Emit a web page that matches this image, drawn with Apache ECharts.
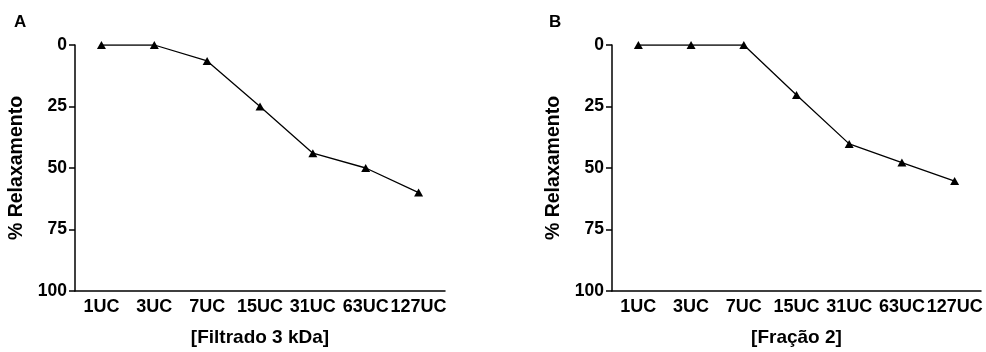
<!DOCTYPE html>
<html>
<head>
<meta charset="utf-8">
<script src="https://cdn.jsdelivr.net/npm/echarts@6/dist/echarts.min.js"></script>
<style>
  html, body { margin: 0; padding: 0; background: #fff; }
  #chart { width: 986px; height: 352px; }
</style>
</head>
<body>
<div id="chart"></div>
<script>
// Concentration steps (x categories)
const doses = ['1UC', '3UC', '7UC', '15UC', '31UC', '63UC', '127UC'];
// % relaxation, panel A (3 kDa filtrate)
const relaxFiltrado = [0, 0, 6.5, 25, 44, 50, 60];
// % relaxation, panel B (fraction 2)
const relaxFracao = [0, 0, 0, 20.3, 40.2, 47.8, 55.3];
// Y tick values
const yTicks = [0, 25, 50, 75, 100];
const panelLetters = ['A', 'B'];
const xTitles = ['[Filtrado 3 kDa]', '[Fração 2]'];
const yTitle = '% Relaxamento';

const FONT = '"Liberation Sans", Arial, sans-serif';
const ink = '#000';

function xAxisFor(i) {
  return {
    type: 'category',
    gridIndex: i,
    position: 'bottom',
    data: doses,
    boundaryGap: true,
    name: xTitles[i],
    nameLocation: 'middle',
    nameGap: 37,
    nameTextStyle: { color: ink, fontFamily: FONT, fontWeight: 'bold', fontSize: 19 },
    axisLine: { onZero: false, lineStyle: { color: ink, width: 1.5 } },
    axisTick: { alignWithLabel: true, length: 5, lineStyle: { color: ink, width: 1.5 } },
    axisLabel: { color: ink, fontFamily: FONT, fontWeight: 'bold', fontSize: 18, margin: 7, interval: 0 },
    splitLine: { show: false }
  };
}

function yAxisFor(i) {
  return {
    type: 'value',
    gridIndex: i,
    inverse: true,
    min: yTicks[0],
    max: yTicks[yTicks.length - 1],
    interval: 25,
    name: yTitle,
    nameLocation: 'middle',
    nameGap: 48,
    nameTextStyle: { color: ink, fontFamily: FONT, fontWeight: 'bold', fontSize: 19.5 },
    axisLine: { show: true, onZero: false, lineStyle: { color: ink, width: 1.5 } },
    axisTick: { show: true, length: 6, lineStyle: { color: ink, width: 1.5 } },
    axisLabel: { color: ink, fontFamily: FONT, fontWeight: 'bold', fontSize: 17.5, margin: 8 },
    splitLine: { show: false }
  };
}

function seriesFor(i, values) {
  return {
    type: 'line',
    xAxisIndex: i,
    yAxisIndex: i,
    data: values,
    symbol: 'triangle',
    symbolSize: [9, 8],
    itemStyle: { color: ink },
    lineStyle: { color: ink, width: 1.3 },
    animation: false
  };
}

const chart = echarts.init(document.getElementById('chart'));
chart.setOption({
  backgroundColor: '#fff',
  animation: false,
  title: [
    { text: panelLetters[0], left: 14, top: 14, padding: 0, textStyle: { color: ink, fontFamily: FONT, fontWeight: 'bold', fontSize: 17 } },
    { text: panelLetters[1], left: 549, top: 14, padding: 0, textStyle: { color: ink, fontFamily: FONT, fontWeight: 'bold', fontSize: 17 } }
  ],
  grid: [
    { left: 75, top: 45, width: 370, height: 247 },
    { left: 612, top: 45, width: 369, height: 247 }
  ],
  xAxis: [xAxisFor(0), xAxisFor(1)],
  yAxis: [yAxisFor(0), yAxisFor(1)],
  series: [seriesFor(0, relaxFiltrado), seriesFor(1, relaxFracao)]
});
</script>
</body>
</html>
